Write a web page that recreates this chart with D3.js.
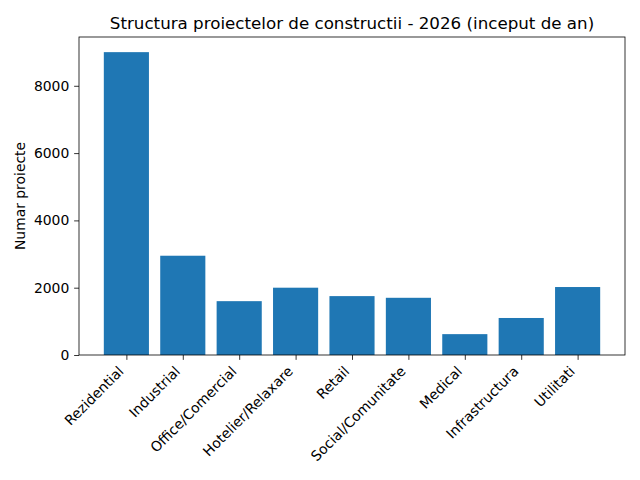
<!DOCTYPE html>
<html>
<head>
<meta charset="utf-8">
<script src="https://cdn.jsdelivr.net/npm/d3@7"></script>
<style>
  body { margin: 0; background: #fff; }
  text { font-family: "DejaVu Sans", sans-serif; }
</style>
</head>
<body>
<script>
// categorii si valori
let categorii = ["Rezidential", "Industrial", "Office/Comercial", "Hotelier/Relaxare",
                 "Retail", "Social/Comunitate", "Medical", "Infrastructura", "Utilitati"]
let proiecte = [9000, 2950, 1600, 2000, 1750, 1700, 620, 1100, 2020]
let yTicks = [0, 2000, 4000, 6000, 8000]

let W = 640, H = 480
let mLeft = 79, mRight = 625, mTop = 37, mBottom = 355
let fs = 13.9   // 10pt la 100 dpi
let tick = 4.86

let svg = d3.select("body").append("svg")
            .attr("width", W)
            .attr("height", H)

// matplotlib style: bara latime 0.8, margini 5%
let n = categorii.length
let span = (n - 1) + 0.8
let x = d3.scaleLinear()
            .domain([-0.4 - span * 0.05, n - 1 + 0.4 + span * 0.05])
            .range([mLeft, mRight])

let y = d3.scaleLinear()
            .domain([0, d3.max(proiecte) * 1.05])
            .range([mBottom, mTop])

svg.selectAll("rect.bar")
    .data(proiecte)
    .enter()
    .append("rect")
        .attr("class", "bar")
        .attr("x", (d, i) => x(i - 0.4))
        .attr("width", (d, i) => x(i + 0.4) - x(i - 0.4))
        .attr("y", d => y(d))
        .attr("height", d => y(0) - y(d))
        .attr("fill", "#1f77b4")

let xAxis = svg.append("g")
            .attr("transform", "translate(0," + mBottom + ")")
            .call(d3.axisBottom(x)
                    .tickValues(d3.range(n))
                    .tickFormat(i => categorii[i])
                    .tickSize(tick)
                    .tickPadding(tick))

// ha=right, rotatie 45 ca in matplotlib
xAxis.selectAll("text")
    .attr("font-size", fs + "px")
    .attr("fill", "#000")
    .attr("text-anchor", "end")
    .attr("x", 0)
    .attr("y", 0)
    .attr("dy", null)
    .attr("transform", "translate(-2.3,17.2) rotate(-45)")

let yAxis = svg.append("g")
            .attr("transform", "translate(" + mLeft + ",0)")
            .call(d3.axisLeft(y)
                    .tickValues(yTicks)
                    .tickFormat(d3.format("d"))
                    .tickSize(tick)
                    .tickPadding(tick))

yAxis.selectAll("text")
    .attr("font-size", fs + "px")
    .attr("fill", "#000")

svg.selectAll(".domain").remove()
svg.selectAll(".tick line").attr("stroke", "#000").attr("stroke-width", 0.8)

// chenarul axelor
svg.append("rect")
    .attr("x", mLeft)
    .attr("y", mTop)
    .attr("width", mRight - mLeft)
    .attr("height", mBottom - mTop)
    .attr("fill", "none")
    .attr("stroke", "#000")
    .attr("stroke-width", 0.8)

svg.append("text")
    .attr("x", (mLeft + mRight) / 2)
    .attr("y", mTop - 8)
    .attr("text-anchor", "middle")
    .attr("font-size", "16.7px")
    .text("Structura proiectelor de constructii - 2026 (inceput de an)")

svg.append("text")
    .attr("transform", "translate(25," + (mTop + mBottom) / 2 + ") rotate(-90)")
    .attr("text-anchor", "middle")
    .attr("font-size", fs + "px")
    .text("Numar proiecte")
</script>
</body>
</html>
